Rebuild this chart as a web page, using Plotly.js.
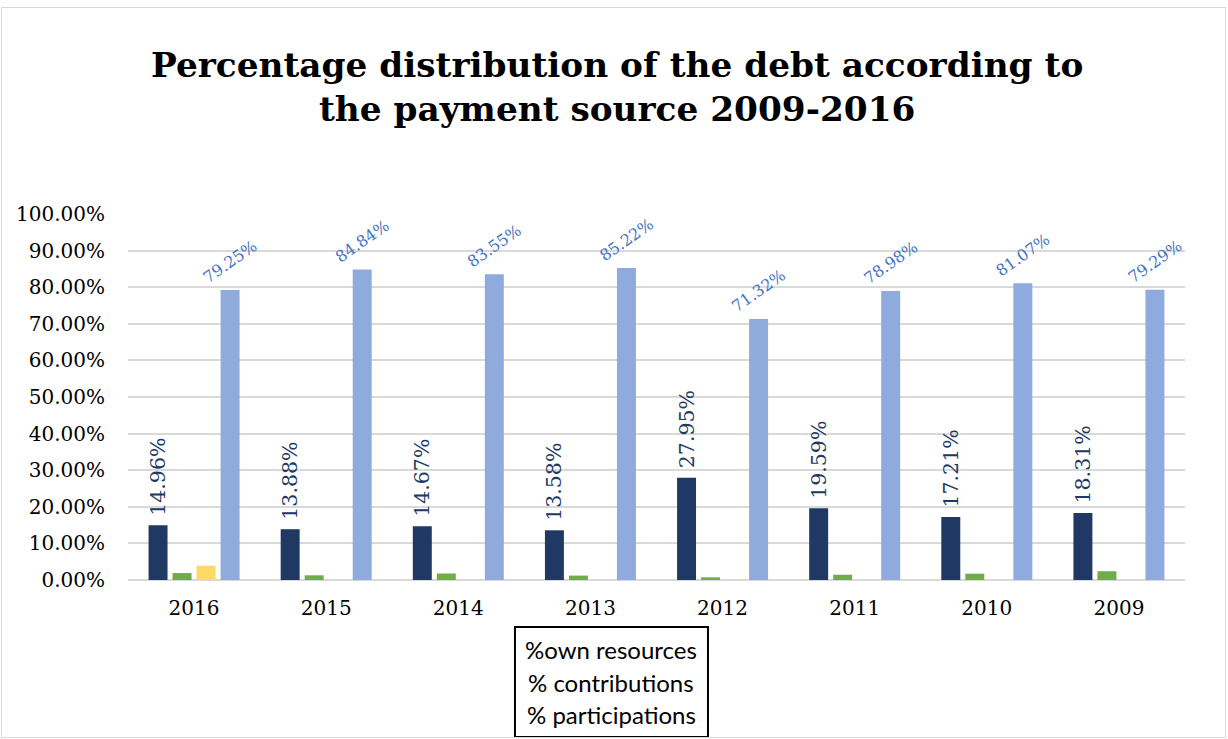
<!DOCTYPE html>
<html>
<head>
<meta charset="utf-8">
<script src="https://cdn.plot.ly/plotly-3.0.1.min.js"></script>
<style>
  html, body { margin: 0; padding: 0; background: #ffffff; }
  #chart { position: absolute; left: 1px; top: 7px; width: 1225px; height: 731px;
           border: 1px solid #d9d9d9; box-sizing: border-box; }
</style>
</head>
<body>
<div id="chart"></div>
<script>
// ---- data ----
const years = ['2016', '2015', '2014', '2013', '2012', '2011', '2010', '2009'];
const ownResources   = [14.96, 13.88, 14.67, 13.58, 27.95, 19.59, 17.21, 18.31];
const contributions  = [1.90, 1.28, 1.78, 1.20, 0.73, 1.43, 1.72, 2.40];
const participations = [3.89, 0, 0, 0, 0, 0, 0, 0];
const otherSources   = [79.25, 84.84, 83.55, 85.22, 71.32, 78.98, 81.07, 79.29];
const legendLines = ['%own resources', '% contributions', '% participations'];
const yTickVals = [0, 10, 20, 30, 40, 50, 60, 70, 80, 90, 100];

const serif = 'DejaVu Serif, serif';

const traces = [
  { type: 'bar', name: legendLines[0], x: years, y: ownResources,
    marker: { color: '#203864' },
    text: ownResources.map(v => '\u00a0' + v.toFixed(2) + '%'),
    textposition: 'outside', textangle: -90, constraintext: 'none', cliponaxis: false,
    textfont: { family: serif, size: 20.5, color: '#203864' }, hoverinfo: 'x+y' },
  { type: 'bar', name: legendLines[1], x: years, y: contributions,
    marker: { color: '#70AD47' }, hoverinfo: 'x+y' },
  { type: 'bar', name: legendLines[2], x: years, y: participations,
    marker: { color: '#FFD966' }, hoverinfo: 'x+y' },
  { type: 'bar', name: '% other sources', x: years, y: otherSources,
    marker: { color: '#8FAADC' },
    text: otherSources.map(v => v.toFixed(2) + '%'),
    textposition: 'outside', textangle: -35, constraintext: 'none', cliponaxis: false,
    textfont: { family: serif, size: 16, color: '#4472C4' }, hoverinfo: 'x+y' }
];

// legend box geometry (paper coords relative to plot area)
const boxX0 = 0.3661, boxX1 = 0.5487, boxY0 = -0.1284, boxY1 = -0.4290;
const lineYs = [-0.1900, -0.2800, -0.3680];

const annotations = legendLines.map((t, i) => ({
  xref: 'paper', yref: 'paper', x: (boxX0 + boxX1) / 2, y: lineYs[i],
  xanchor: 'center', yanchor: 'middle', showarrow: false, text: t,
  font: { family: 'Lato, sans-serif', size: 24, color: '#000000' }
}));

const layout = {
  width: 1223, height: 729,
  margin: { l: 126, r: 40, t: 206, b: 157 },
  paper_bgcolor: '#ffffff', plot_bgcolor: '#ffffff',
  showlegend: false,
  barmode: 'group', bargap: 0.273, bargroupgap: 0.21,
  title: {
    text: '<b>Percentage distribution of the debt according to<br>the payment source 2009-2016</b>',
    font: { family: serif, size: 34.3, color: '#000000' },
    x: 0.503, xanchor: 'center', y: 0.906, yanchor: 'top'
  },
  xaxis: {
    type: 'category', showgrid: false, zeroline: false, showline: false,
    ticks: '', tickfont: { family: serif, size: 20, color: '#000000' },
    ticklabelstandoff: 14
  },
  yaxis: {
    range: [0, 100], tickvals: yTickVals,
    ticktext: yTickVals.map(v => v.toFixed(2) + '%'),
    showgrid: true, gridcolor: '#d9d9d9', gridwidth: 1.5,
    zeroline: true, zerolinecolor: '#d9d9d9', zerolinewidth: 1.5,
    showline: false, ticks: '',
    tickfont: { family: serif, size: 20, color: '#000000' },
    ticklabelstandoff: 22
  },
  shapes: [{
    type: 'rect', xref: 'paper', yref: 'paper',
    x0: boxX0, x1: boxX1, y0: boxY0, y1: boxY1,
    line: { color: '#000000', width: 2 }, fillcolor: 'rgba(0,0,0,0)'
  }],
  annotations: annotations
};

Plotly.newPlot('chart', traces, layout, { displayModeBar: false, responsive: false });
</script>
</body>
</html>
